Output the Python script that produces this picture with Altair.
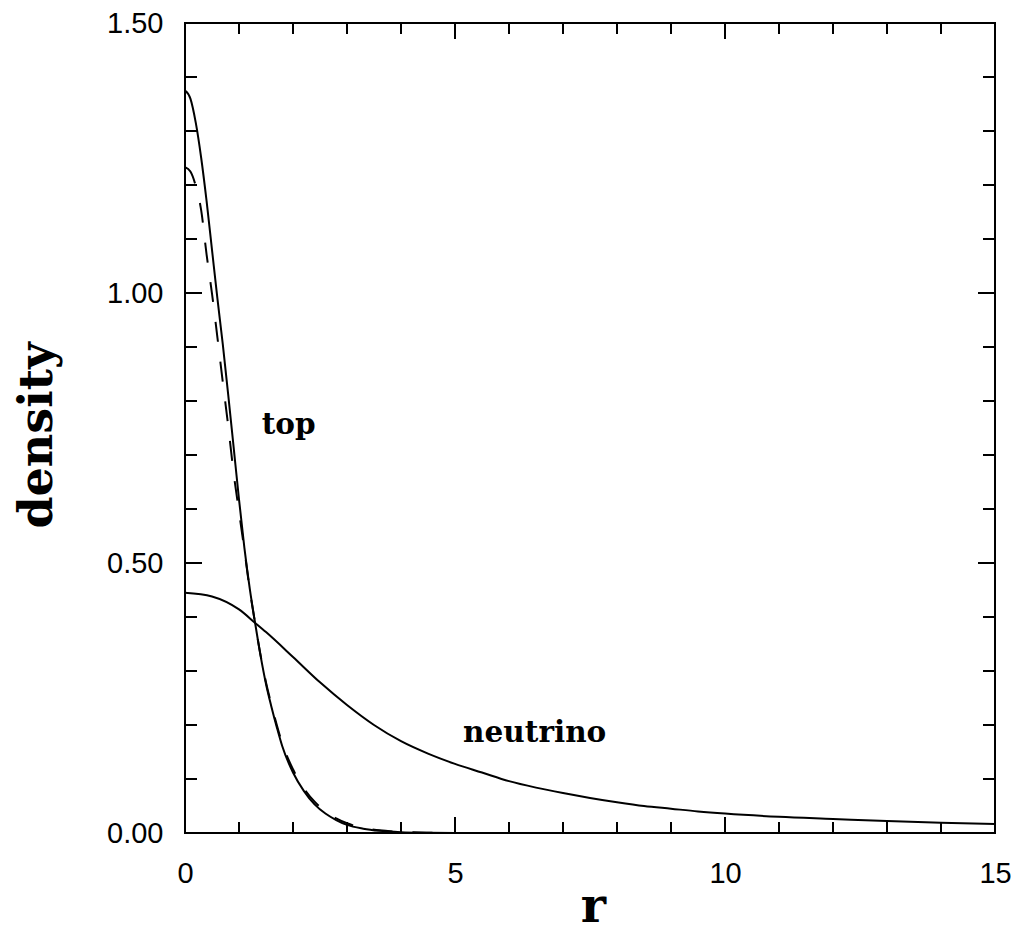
import altair as alt
import pandas as pd

# ---- data ----
r_top = [0, 0.1, 0.2, 0.3, 0.4, 0.5, 0.6, 0.7, 0.8, 0.9, 1.0, 1.1, 1.2, 1.3, 1.4, 1.5,
         1.6, 1.7, 1.8, 2.0, 2.2, 2.4, 2.6, 2.8, 3.0, 3.3, 3.6, 4.0, 4.5, 5.0, 6.0, 8.0,
         10.0, 12.0, 15.0]
top_solid = [1.375, 1.36, 1.315, 1.25, 1.17, 1.08, 0.99, 0.905, 0.812, 0.715, 0.618,
             0.528, 0.452, 0.388, 0.328, 0.276, 0.234, 0.196, 0.161, 0.112, 0.078,
             0.053, 0.036, 0.024, 0.015, 0.008, 0.004, 0.0015, 0.0005, 0.0001, 0.0,
             0.0, 0.0, 0.0, 0.0]
top_dashed = [1.233, 1.225, 1.198, 1.153, 1.071, 0.999, 0.918, 0.835, 0.754, 0.667,
              0.595, 0.524, 0.45, 0.387, 0.329, 0.279, 0.238, 0.2, 0.166, 0.118, 0.083,
              0.058, 0.04, 0.027, 0.018, 0.009, 0.005, 0.002, 0.0006, 0.0002, 0.0,
              0.0, 0.0, 0.0, 0.0]

r_nu = [0, 0.5, 1.0, 1.3, 1.5, 2.0, 2.5, 3.0, 3.5, 4.0, 4.5, 5.0, 5.5, 6.0, 6.5, 7.0,
        7.5, 8.0, 8.5, 9.0, 9.5, 10.0, 11.0, 12.0, 13.0, 14.0, 15.0]
neutrino = [0.445, 0.438, 0.414, 0.389, 0.372, 0.326, 0.279, 0.237, 0.200, 0.170, 0.147,
            0.128, 0.112, 0.096, 0.084, 0.074, 0.065, 0.057, 0.050, 0.045, 0.040, 0.036,
            0.030, 0.026, 0.022, 0.019, 0.0165]

label_text = ["top", "neutrino"]
label_r = [1.42, 5.15]
label_v = [0.739, 0.169]

x_tick_vals = [0, 5, 10, 15]
y_tick_vals = [0.0, 0.5, 1.0, 1.5]
x_minor = [1, 2, 3, 4, 6, 7, 8, 9, 11, 12, 13, 14]
x_major = [5, 10]
y_minor = [0.1, 0.2, 0.3, 0.4, 0.6, 0.7, 0.8, 0.9, 1.1, 1.2, 1.3, 1.4]
y_major = [0.5, 1.0]

W = 810
H = 810

xs = alt.Scale(domain=[0, 15], nice=False, zero=False)
ys = alt.Scale(domain=[0, 1.5], nice=False, zero=False)

df_solid = pd.DataFrame({"r": r_top, "v": top_solid})
df_dash = pd.DataFrame({"r": r_top, "v": top_dashed})
df_nu = pd.DataFrame({"r": r_nu, "v": neutrino})
df_lab = pd.DataFrame({"t": label_text, "r": label_r, "v": label_v})

x_axis = alt.Axis(values=x_tick_vals, format="d", ticks=False, domain=False, grid=False,
                  labelFont="Liberation Sans", labelFontSize=29, labelColor="black",
                  labelPadding=26, labelFlush=False,
                  title="r", titleFont="DejaVu Serif", titleFontWeight="bold",
                  titleFontSize=48, titleColor="black", titleX=408, titleY=88,
                  titleBaseline="alphabetic", titleAlign="center")
y_axis = alt.Axis(values=y_tick_vals, format=".2f", ticks=False, domain=False, grid=False,
                  labelFont="Liberation Sans", labelFontSize=29, labelColor="black",
                  labelPadding=22, labelFlush=False,
                  title="density", titleFont="DejaVu Serif", titleFontWeight="bold",
                  titleFontSize=46, titleColor="black", titleAngle=270, titleX=-134,
                  titleY=412, titleBaseline="alphabetic", titleAlign="center")

X = alt.X("r:Q", scale=xs, axis=x_axis)
Y = alt.Y("v:Q", scale=ys, axis=y_axis)

solid = alt.Chart(df_solid).mark_line(color="black", strokeWidth=2, clip=True,
                                      interpolate="monotone").encode(x=X, y=Y)
dashed = alt.Chart(df_dash).mark_line(color="black", strokeWidth=2, strokeDash=[20, 20],
                                      clip=True, interpolate="monotone").encode(x=X, y=Y)
nu = alt.Chart(df_nu).mark_line(color="black", strokeWidth=2, clip=True,
                                interpolate="monotone").encode(x=X, y=Y)
labels = alt.Chart(df_lab).mark_text(font="DejaVu Serif", fontWeight="bold", fontSize=29.5,
                                     align="left", baseline="alphabetic",
                                     color="black").encode(x=X, y=Y, text="t:N")


def xticks(vals, length):
    d = pd.DataFrame({"r": vals})
    bottom = alt.Chart(d).mark_rule(color="black", strokeWidth=2).encode(
        x=X, y=alt.value(H), y2=alt.value(H - length))
    top = alt.Chart(d).mark_rule(color="black", strokeWidth=2).encode(
        x=X, y=alt.value(0), y2=alt.value(length))
    return [bottom, top]


def yticks(vals, length):
    d = pd.DataFrame({"v": vals})
    left = alt.Chart(d).mark_rule(color="black", strokeWidth=2).encode(
        y=Y, x=alt.value(0), x2=alt.value(length))
    right = alt.Chart(d).mark_rule(color="black", strokeWidth=2).encode(
        y=Y, x=alt.value(W), x2=alt.value(W - length))
    return [left, right]


layers = [solid, dashed, nu, labels]
layers += xticks(x_minor, 11) + xticks(x_major, 16)
layers += yticks(y_minor, 12) + yticks(y_major, 17)

chart = alt.layer(*layers).properties(
    width=W, height=H,
    background="white",
    autosize=alt.AutoSizeParams(type="none"),
    padding={"left": 177, "top": 15, "right": 16, "bottom": 100},
).configure_view(stroke="black", strokeWidth=2)

chart.save("out.html", embed_options={"renderer": "svg", "actions": False})
